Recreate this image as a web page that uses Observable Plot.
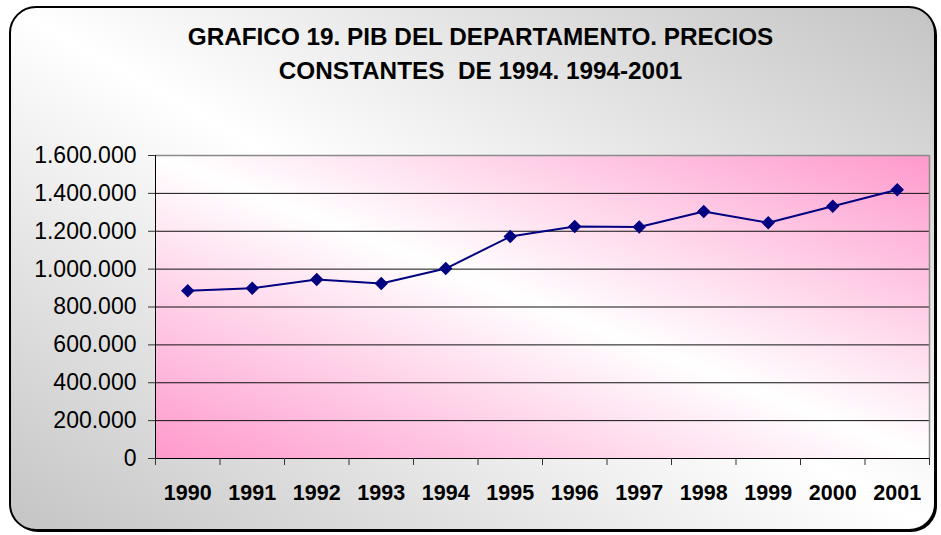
<!DOCTYPE html>
<html>
<head>
<meta charset="utf-8">
<script src="https://cdn.jsdelivr.net/npm/d3@7"></script>
<script src="https://cdn.jsdelivr.net/npm/@observablehq/plot@0.6"></script>
<style>
  html, body { margin: 0; padding: 0; background: #ffffff; }
  #chart svg text { white-space: pre; }
</style>
</head>
<body>
<div id="chart"></div>
<script>
// ---- data ----
const title = "GRAFICO 19. PIB DEL DEPARTAMENTO. PRECIOS\nCONSTANTES  DE 1994. 1994-2001";
const years = [1990, 1991, 1992, 1993, 1994, 1995, 1996, 1997, 1998, 1999, 2000, 2001];
const pib = [886000, 899000, 945000, 924000, 1003000, 1172000, 1225000, 1222000, 1304000, 1245000, 1332000, 1419000];
const yTicks = [0, 200000, 400000, 600000, 800000, 1000000, 1200000, 1400000, 1600000];

const data = years.map((year, i) => ({year, value: pib[i]}));
const bounds = [years[0] - 0.5, ...years.map(y => y + 0.5)];
const fmt = d3.formatLocale({decimal: ",", thousands: ".", grouping: [3], currency: ["", ""]}).format(",");

// background: rounded frame + gradients
function background(index, scales, values, dims, context) {
  const ns = "http://www.w3.org/2000/svg";
  const g = context.document.createElementNS(ns, "g");
  const x0 = dims.marginLeft, y0 = dims.marginTop;
  const w = dims.width - dims.marginLeft - dims.marginRight;
  const h = dims.height - dims.marginTop - dims.marginBottom;
  g.innerHTML = `
    <defs>
      <linearGradient id="bgGrad" x1="0" y1="1" x2="1" y2="0">
        <stop offset="0" stop-color="#c4c4c4"/>
        <stop offset="0.5" stop-color="#ffffff"/>
        <stop offset="1" stop-color="#c4c4c4"/>
      </linearGradient>
      <linearGradient id="pinkGrad" x1="0" y1="1" x2="1" y2="0">
        <stop offset="0" stop-color="#ff99cc"/>
        <stop offset="0.5" stop-color="#ffffff"/>
        <stop offset="1" stop-color="#ff99cc"/>
      </linearGradient>
    </defs>
    <rect x="12" y="9" width="925" height="523" rx="26" ry="26" fill="#000"/>
    <rect x="10" y="7" width="925" height="523" rx="26" ry="26" fill="url(#bgGrad)" stroke="#000" stroke-width="2"/>
    <rect x="${x0}" y="${y0}" width="${w}" height="${h}" fill="url(#pinkGrad)"/>
  `;
  return g;
}

const plot = Plot.plot({
  width: 941,
  height: 535,
  marginLeft: 155,
  marginRight: 12,
  marginTop: 155,
  marginBottom: 77,
  style: {background: "transparent", fontFamily: "'Liberation Sans', Arial, sans-serif", overflow: "visible"},
  x: {type: "linear", domain: [bounds[0], bounds[bounds.length - 1]]},
  y: {domain: [0, 1600000]},
  marks: [
    background,
    Plot.ruleY(yTicks.slice(1, -1), {stroke: "#111", strokeWidth: 1}),
    Plot.ruleY([yTicks[yTicks.length - 1]], {stroke: "#8a8a8a", strokeWidth: 1.5}),
    Plot.ruleX([bounds[bounds.length - 1]], {stroke: "#8a8a8a", strokeWidth: 1.5}),
    Plot.ruleX([bounds[0]], {stroke: "#000", strokeWidth: 1}),
    Plot.ruleY([0], {stroke: "#000", strokeWidth: 1}),
    Plot.axisY({ticks: yTicks, tickFormat: fmt, tickSize: 7, tickPadding: 12, fontSize: 23, fill: "#000", stroke: "#333", label: null}),
    Plot.axisX({ticks: bounds, tickFormat: () => "", tickSize: 7, stroke: "#333", label: null}),
    Plot.axisX({ticks: years, tickFormat: d => String(d), tickSize: 0, tickPadding: 26, fontSize: 21.5, fontWeight: "bold", fill: "#000", label: null}),
    Plot.line(data, {x: "year", y: "value", stroke: "#000080", strokeWidth: 2}),
    Plot.dot(data, {x: "year", y: "value", symbol: "square", r: 4.8, rotate: 45, fill: "#000080", stroke: "#000080", strokeWidth: 1}),
    Plot.text([title], {frameAnchor: "top", dx: -62, dy: -135, lineHeight: 1.4, fontSize: 24.3, fontWeight: "bold", fill: "#000"})
  ]
});

document.getElementById("chart").appendChild(plot);
</script>
</body>
</html>
